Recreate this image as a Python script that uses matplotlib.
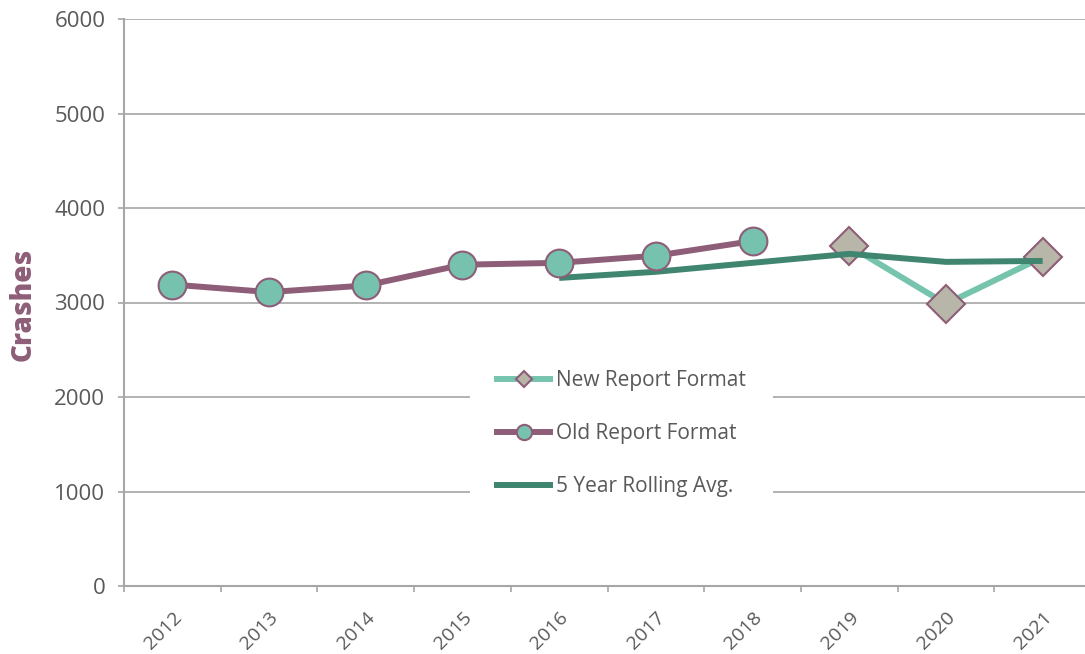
import numpy as np
import matplotlib.pyplot as plt
from matplotlib.lines import Line2D

plt.rcParams['font.family'] = ['Open Sans', 'DejaVu Sans']

years = ['2012', '2013', '2014', '2015', '2016', '2017', '2018', '2019', '2020', '2021']
old_years = ['2012', '2013', '2014', '2015', '2016', '2017', '2018']
old_vals = [3190, 3110, 3180, 3400, 3420, 3495, 3650]
new_years = ['2019', '2020', '2021']
new_vals = [3600, 2985, 3480]
avg_years = ['2016', '2017', '2018', '2019', '2020', '2021']
avg_vals = [3260, 3325, 3420, 3515, 3430, 3440]

c_old = '#8E5E78'
c_dot = '#76C2AE'
c_new = '#76C4AE'
c_dia = '#B8B6A9'
c_avg = '#3F8570'
c_grid = '#A6A6A6'
c_txt = '#595959'

idx = {y: i for i, y in enumerate(years)}

fig = plt.figure(figsize=(10.85, 6.54), dpi=100)
ax = fig.add_axes([124/1085, 68/654, 967/1085, 567/654])

ax.plot([idx[y] for y in avg_years], avg_vals, color=c_avg, lw=4.3, zorder=3, solid_capstyle='butt')
ax.plot([idx[y] for y in new_years], new_vals, color=c_new, lw=4.3, zorder=2,
        marker='D', ms=19, mfc=c_dia, mec=c_old, mew=1.5)
ax.plot([idx[y] for y in old_years], old_vals, color=c_old, lw=4.3, zorder=4,
        marker='o', ms=20, mfc=c_dot, mec=c_old, mew=1.5)

ax.set_xlim(-0.5, len(years) - 0.5)
ax.set_ylim(0, 6000)
ax.set_yticks(range(0, 6001, 1000))
ax.set_xticks(np.arange(-0.5, len(years), 1.0))
ax.set_xticklabels([])
ax.set_xticks(range(len(years)), minor=True)
ax.set_xticklabels(years, minor=True, rotation=45, ha='right', va='top', rotation_mode='anchor',
                   fontsize=14, color=c_txt)
ax.tick_params(axis='x', which='minor', length=0, pad=16)
ax.tick_params(axis='x', which='major', length=4.5, color=c_grid, width=1.2)
ax.tick_params(axis='y', length=4.5, color=c_grid, width=1.2, labelsize=16, labelcolor=c_txt, pad=9)

ax.grid(axis='y', color=c_grid, lw=1.2)
ax.set_axisbelow(True)
for s in ['top', 'right']:
    ax.spines[s].set_visible(False)
for s in ['left', 'bottom']:
    ax.spines[s].set_color(c_grid)
    ax.spines[s].set_linewidth(1.5)

fig.text(23/1085, 1 - 304/654, 'Crashes', rotation=90, ha='center', va='center',
         fontsize=20, fontweight='heavy', color=c_old)

handles = [
    Line2D([], [], color=c_new, lw=4.3, marker='D', ms=8, mfc=c_dia, mec=c_old, mew=1.5),
    Line2D([], [], color=c_old, lw=4.3, marker='o', ms=11, mfc=c_dot, mec=c_old, mew=1.5),
    Line2D([], [], color=c_avg, lw=4.3),
]
leg = ax.legend(handles, ['New Report Format', 'Old Report Format', '5 Year Rolling Avg.'],
                loc='upper left', bbox_to_anchor=(470/1085, 1 - 343/654), bbox_transform=fig.transFigure,
                frameon=True, facecolor='white', edgecolor='none', framealpha=1, fancybox=False,
                fontsize=15, labelcolor=c_txt, handlelength=2.55, handletextpad=0.3,
                labelspacing=1.53, borderpad=1.3, borderaxespad=0)

fig.savefig('out.png', dpi=100)
